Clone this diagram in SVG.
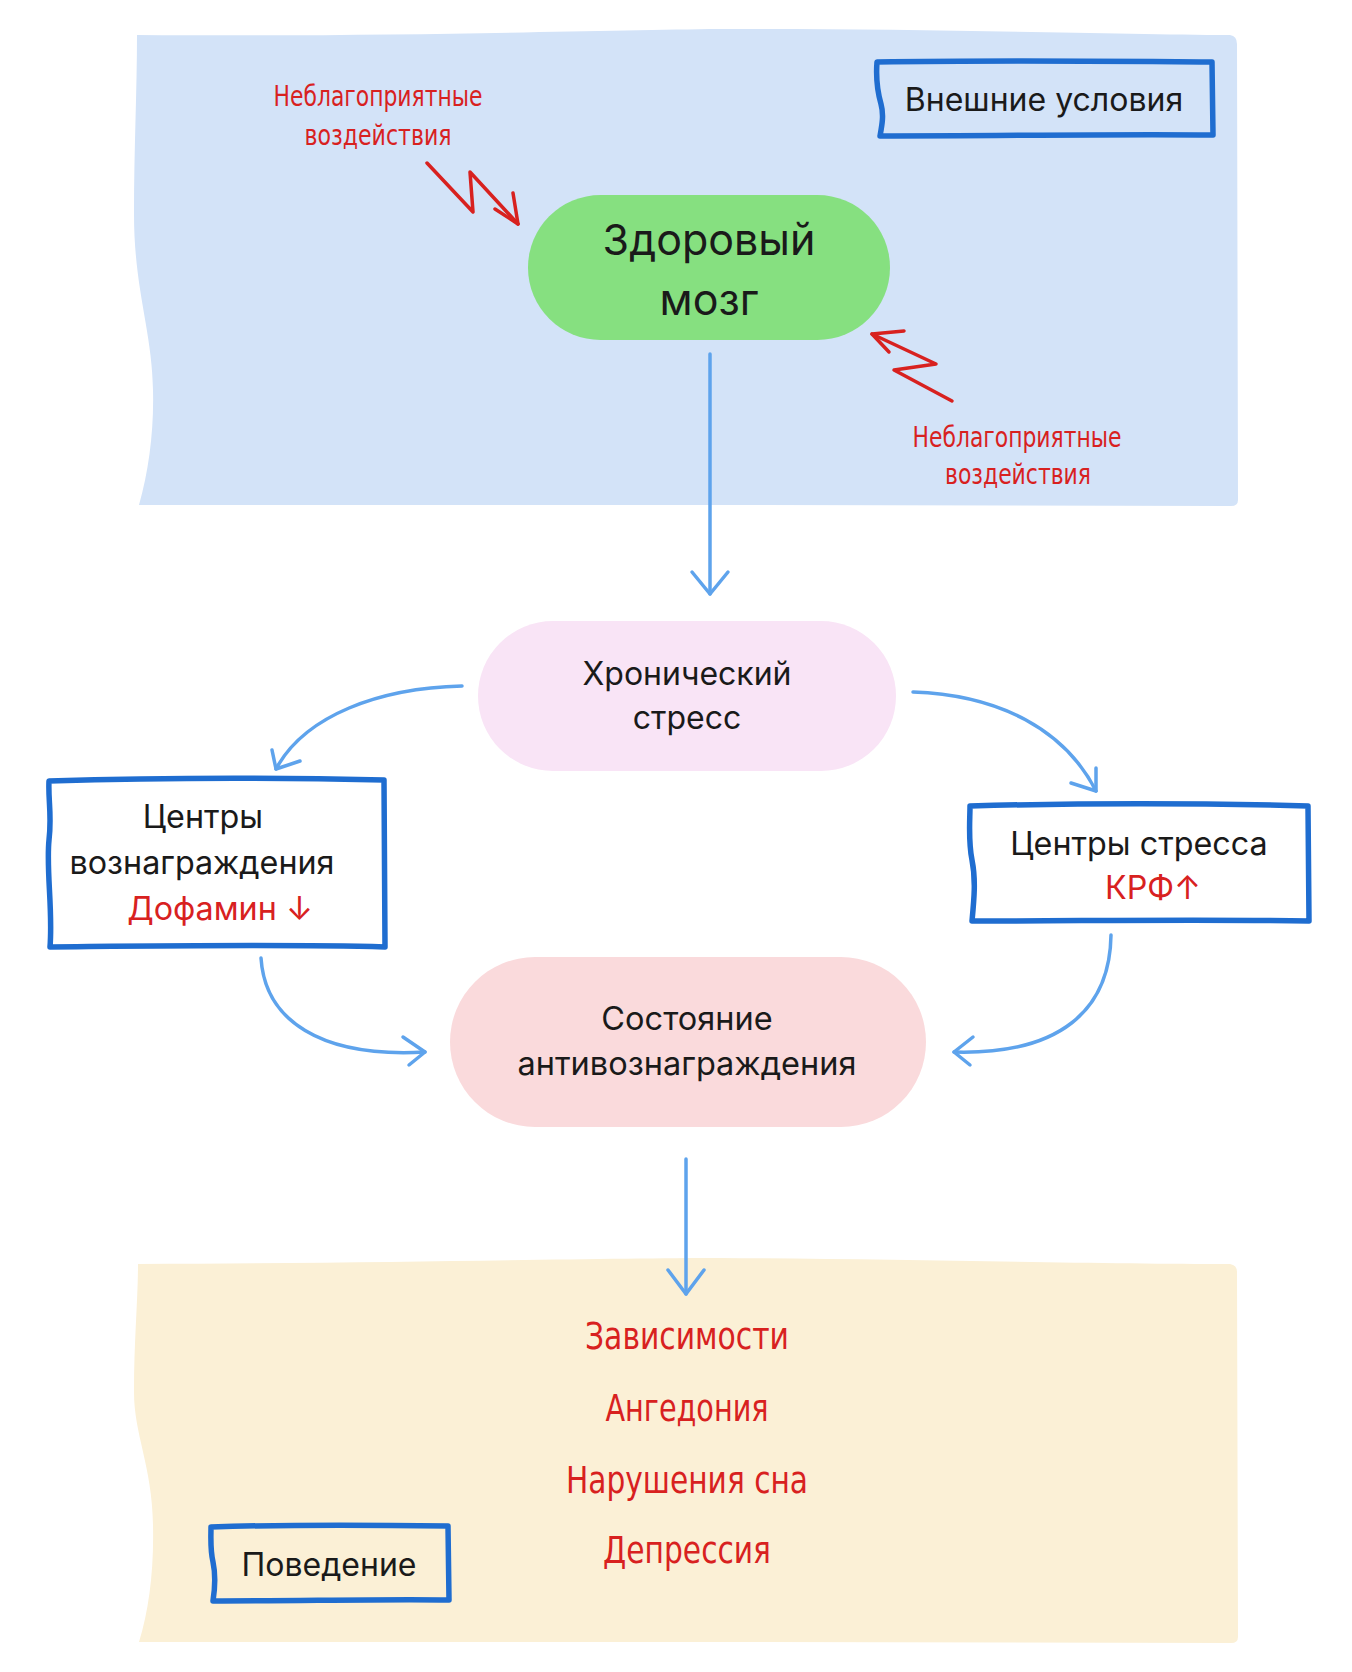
<svg xmlns="http://www.w3.org/2000/svg" width="1352" height="1672" viewBox="0 0 1352 1672">
<defs>
<style>
.t{font-family:Inter,"Noto Sans","DejaVu Sans",sans-serif;fill:#1a1a1a;text-anchor:middle}
.r{fill:#d8211f}
.h{font-family:"Liberation Sans Narrow","DejaVu Sans Condensed","Liberation Sans",sans-serif;fill:#d8211f;text-anchor:middle}
.box{fill:none;stroke:#1f6dd0;stroke-width:5.5;stroke-linejoin:round;stroke-linecap:round}
.con{fill:none;stroke:#5ea3ec;stroke-width:3.5;stroke-linecap:round;stroke-linejoin:round}
.zz{fill:none;stroke:#d8211f;stroke-width:3.5;stroke-linecap:round;stroke-linejoin:round}
</style>
</defs>
<rect width="1352" height="1672" fill="#ffffff"/>
<g id="bg-external">
<path d="M137,35 C400,37 600,30 720,29 C900,28 1100,34 1230,35 Q1237,36 1237,44 L1238,500 Q1238,506 1231,506 L700,505 L139,505 C149,470 154,430 153,390 C152,330 134,290 134,214 C134,150 137,90 137,35 Z" fill="#d3e3f8"/>
</g>
<g id="bg-behavior">
<path d="M138,1264 C400,1263 600,1258 720,1258 C900,1259 1100,1264 1230,1264 Q1237,1265 1237,1272 L1238,1637 Q1238,1643 1231,1643 L700,1642 L139,1642 C149,1610 154,1570 153,1525 C152,1465 134,1435 134,1392 C134,1340 138,1300 138,1264 Z" fill="#fbf0d6"/>
</g>
<g id="connectors">
<path class="con" d="M710,354 L710,594"/>
<polyline class="con" points="692,572 710,594 728,572"/>
<path class="con" d="M462,686 C380,688 305,715 276,769"/>
<polyline class="con" points="272,750 276,769 300,761"/>
<path class="con" d="M913,692 C1000,695 1065,730 1096,791"/>
<polyline class="con" points="1071,783 1096,791 1096,768"/>
<path class="con" d="M261,958 C265,1020 320,1058 425,1052"/>
<polyline class="con" points="403,1037 425,1052 409,1065"/>
<path class="con" d="M1111,935 C1110,1010 1060,1055 954,1052"/>
<polyline class="con" points="973,1037 954,1052 970,1065"/>
<path class="con" d="M686,1159 L686,1294"/>
<polyline class="con" points="668,1270 686,1294 704,1270"/>
</g>
<g id="impact-top">
<polyline class="zz" points="427,163 473,212 470,172 518,224"/>
<polyline class="zz" points="495,209 518,224 513,193"/>
<text class="h" x="378" y="106" font-size="28" textLength="209" lengthAdjust="spacingAndGlyphs">Неблагоприятные</text>
<text class="h" x="378" y="145" font-size="28" textLength="147" lengthAdjust="spacingAndGlyphs">воздействия</text>
</g>
<g id="impact-bottom">
<polyline class="zz" points="952,401 894,370 936,364 872,334"/>
<polyline class="zz" points="904,331 872,334 889,352"/>
<text class="h" x="1017" y="447" font-size="28" textLength="209" lengthAdjust="spacingAndGlyphs">Неблагоприятные</text>
<text class="h" x="1018" y="484" font-size="28" textLength="146" lengthAdjust="spacingAndGlyphs">воздействия</text>
</g>
<g id="external-label">
<path class="box" d="M877,62 C1000,60 1100,61 1212,62 L1213,135 C1100,134 1000,136 880,136 C882,125 884,115 881,104 C877,90 876,75 877,62 Z"/>
<text class="t" x="1044" y="111" font-size="32">Внешние условия</text>
</g>
<g id="healthy-brain">
<rect x="528" y="195" width="362" height="145" rx="72.5" fill="#86e080"/>
<text class="t" x="709" y="255" font-size="43">Здоровый</text>
<text class="t" x="709" y="315" font-size="43">мозг</text>
</g>
<g id="chronic-stress">
<rect x="478" y="621" width="418" height="150" rx="75" fill="#f9e4f6"/>
<text class="t" x="687" y="685" font-size="32">Хронический</text>
<text class="t" x="687" y="729" font-size="32">стресс</text>
</g>
<g id="reward-centers">
<path class="box" d="M49,781 C150,778 250,777 384,780 L385,947 C280,944 150,946 50,947 C53,910 46,870 49,840 C52,815 48,800 49,781 Z"/>
<text class="t" x="203" y="828" font-size="32.3">Центры</text>
<text class="t" x="202" y="874" font-size="32.3">вознаграждения</text>
<text class="t r" x="220" y="920" font-size="32.3">Дофамин ↓</text>
</g>
<g id="stress-centers">
<path class="box" d="M970,806 C1080,803 1200,803 1308,806 L1309,921 C1200,919 1080,921 972,921 C974,900 976,880 972,860 C968,840 970,820 970,806 Z"/>
<text class="t" x="1139" y="855" font-size="32.3">Центры стресса</text>
<text class="t r" x="1153" y="899" font-size="32.3">КРФ↑</text>
</g>
<g id="anti-reward">
<rect x="450" y="957" width="476" height="170" rx="85" fill="#fadadc"/>
<text class="t" x="687" y="1030" font-size="32.5">Состояние</text>
<text class="t" x="687" y="1075" font-size="32.5">антивознаграждения</text>
</g>
<g id="behavior-label">
<path class="box" d="M211,1527 C300,1524 380,1525 448,1526 L449,1600 C380,1599 300,1601 213,1601 C215,1588 216,1576 213,1562 C210,1549 211,1537 211,1527 Z"/>
<text class="t" x="329" y="1576" font-size="32">Поведение</text>
</g>
<g id="outcomes">
<text class="h" x="687" y="1349" font-size="38" textLength="204" lengthAdjust="spacingAndGlyphs">Зависимости</text>
<text class="h" x="687" y="1421" font-size="38" textLength="163" lengthAdjust="spacingAndGlyphs">Ангедония</text>
<text class="h" x="687" y="1493" font-size="38" textLength="242" lengthAdjust="spacingAndGlyphs">Нарушения сна</text>
<text class="h" x="687" y="1563" font-size="38" textLength="168" lengthAdjust="spacingAndGlyphs">Депрессия</text>
</g>
</svg>
